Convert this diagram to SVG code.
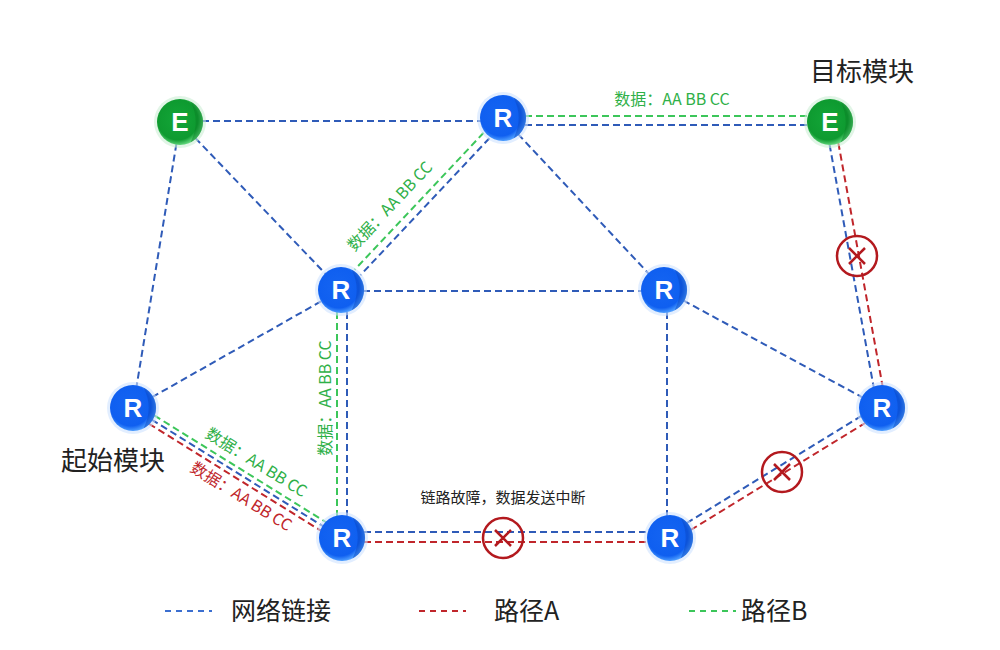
<svg xmlns="http://www.w3.org/2000/svg" width="1000" height="650" viewBox="0 0 1000 650">
<style>
.net{stroke:#2f5bb8;stroke-width:2;stroke-dasharray:7 4;fill:none}
.pa{stroke:#c0262b;stroke-width:2;stroke-dasharray:7 4;fill:none}
.pb{stroke:#3cc65a;stroke-width:2;stroke-dasharray:7 4;fill:none}
.lg{stroke-width:2;stroke-dasharray:6 5;fill:none}
.nl{font-family:"Liberation Sans","Noto Sans CJK SC",sans-serif;font-weight:bold;font-size:26px;fill:#fff;text-anchor:middle}
.t{font-family:"Noto Sans CJK SC",sans-serif;fill:#222}
.g{font-family:"Noto Sans CJK SC",sans-serif;font-size:16px;fill:#2fb048;text-anchor:middle}
.r{font-family:"Noto Sans CJK SC",sans-serif;font-size:16px;fill:#c0262b;text-anchor:middle}
.x{stroke:#b3191e;stroke-width:2.5;fill:none}
</style>
<defs>
<radialGradient id="gb" cx="45%" cy="45%" r="55%">
<stop offset="0" stop-color="#1565f2"/>
<stop offset="0.8" stop-color="#0f5ff0"/>
<stop offset="1" stop-color="#4c9dff"/>
</radialGradient>
<radialGradient id="gg" cx="45%" cy="45%" r="55%">
<stop offset="0" stop-color="#13a638"/>
<stop offset="0.8" stop-color="#0e9a30"/>
<stop offset="1" stop-color="#5fd47a"/>
</radialGradient>
<g id="xm"><circle r="20" class="x"/><path d="M-8,-8L8,8M8,-8L-8,8" class="x"/></g>
</defs>
<rect width="1000" height="650" fill="#fff"/>
<g id="connectors">
<line class="net" x1="180" y1="121" x2="503" y2="121"/>
<line class="net" x1="180" y1="122" x2="341" y2="290"/>
<line class="net" x1="180" y1="122" x2="133" y2="408"/>
<line class="net" x1="489.4" y1="138.2" x2="360.4" y2="275.2"/>
<line class="pb" x1="483.6" y1="132.8" x2="354.6" y2="269.8"/>
<line class="net" x1="503" y1="118" x2="664" y2="290"/>
<line class="net" x1="503" y1="125" x2="830" y2="125"/>
<line class="pb" x1="503" y1="116" x2="830" y2="116"/>
<line class="net" x1="341" y1="291" x2="664" y2="291"/>
<line class="net" x1="347" y1="290" x2="347" y2="538"/>
<line class="pb" x1="337" y1="290" x2="337" y2="538"/>
<line class="net" x1="133" y1="408" x2="341" y2="290"/>
<line class="pb" x1="135.6" y1="403.8" x2="344.6" y2="533.8"/>
<line class="net" x1="133" y1="408" x2="342" y2="538"/>
<line class="pa" x1="130.4" y1="412.2" x2="339.4" y2="542.2"/>
<line class="net" x1="667" y1="290" x2="667" y2="538"/>
<line class="net" x1="664" y1="290" x2="882" y2="408"/>
<line class="net" x1="342" y1="532" x2="670" y2="532"/>
<line class="pa" x1="342" y1="542" x2="670" y2="542"/>
<line class="net" x1="667.9" y1="534.6" x2="879.9" y2="404.6"/>
<line class="pa" x1="672.1" y1="541.4" x2="884.1" y2="411.4"/>
<line class="net" x1="825.6" y1="122.8" x2="877.6" y2="408.8"/>
<line class="pa" x1="834.4" y1="121.2" x2="886.4" y2="407.2"/>
</g>
<g id="faults">
<use href="#xm" x="503" y="538"/>
<use href="#xm" x="782" y="472"/>
<use href="#xm" x="857" y="256"/>
</g>
<g id="labels">
<text class="g" x="672" y="105">数据：AA BB CC</text>
<text class="g" transform="translate(394,210) rotate(-46.7)">数据：AA BB CC</text>
<text class="g" transform="translate(326,398) rotate(-90)" dy="5">数据：AA BB CC</text>
<text class="g" transform="translate(256,463) rotate(31.9)" dy="5">数据：AA BB CC</text>
<text class="r" transform="translate(241,497) rotate(31.9)" dy="5">数据：AA BB CC</text>
<text class="t" x="503" y="503" font-size="15" text-anchor="middle">链路故障，数据发送中断</text>
<text class="t" x="862" y="81" font-size="26" text-anchor="middle">目标模块</text>
<text class="t" x="113" y="470" font-size="26" text-anchor="middle">起始模块</text>
</g>
<g id="node-E1" transform="translate(180,122)"><circle r="26" fill="#cdeed6" opacity="0.6"/><circle r="23" fill="url(#gg)"/><path d="M10.5,-20.5A23,23 0 0 1 10.5,20.5Q21,0 10.5,-20.5Z" fill="#0a7f26" opacity="0.5"/><text class="nl" y="9">E</text></g>
<g id="node-Rtop" transform="translate(503,118)"><circle r="26" fill="#cfe2ff" opacity="0.6"/><circle r="23" fill="url(#gb)"/><path d="M10.5,-20.5A23,23 0 0 1 10.5,20.5Q21,0 10.5,-20.5Z" fill="#0a47c4" opacity="0.5"/><text class="nl" y="9">R</text></g>
<g id="node-E2" transform="translate(830,122)"><circle r="26" fill="#cdeed6" opacity="0.6"/><circle r="23" fill="url(#gg)"/><path d="M10.5,-20.5A23,23 0 0 1 10.5,20.5Q21,0 10.5,-20.5Z" fill="#0a7f26" opacity="0.5"/><text class="nl" y="9">E</text></g>
<g id="node-RML" transform="translate(341,290)"><circle r="26" fill="#cfe2ff" opacity="0.6"/><circle r="23" fill="url(#gb)"/><path d="M10.5,-20.5A23,23 0 0 1 10.5,20.5Q21,0 10.5,-20.5Z" fill="#0a47c4" opacity="0.5"/><text class="nl" y="9">R</text></g>
<g id="node-RMR" transform="translate(664,290)"><circle r="26" fill="#cfe2ff" opacity="0.6"/><circle r="23" fill="url(#gb)"/><path d="M10.5,-20.5A23,23 0 0 1 10.5,20.5Q21,0 10.5,-20.5Z" fill="#0a47c4" opacity="0.5"/><text class="nl" y="9">R</text></g>
<g id="node-RL" transform="translate(133,408)"><circle r="26" fill="#cfe2ff" opacity="0.6"/><circle r="23" fill="url(#gb)"/><path d="M10.5,-20.5A23,23 0 0 1 10.5,20.5Q21,0 10.5,-20.5Z" fill="#0a47c4" opacity="0.5"/><text class="nl" y="9">R</text></g>
<g id="node-RR" transform="translate(882,408)"><circle r="26" fill="#cfe2ff" opacity="0.6"/><circle r="23" fill="url(#gb)"/><path d="M10.5,-20.5A23,23 0 0 1 10.5,20.5Q21,0 10.5,-20.5Z" fill="#0a47c4" opacity="0.5"/><text class="nl" y="9">R</text></g>
<g id="node-RBL" transform="translate(342,538)"><circle r="26" fill="#cfe2ff" opacity="0.6"/><circle r="23" fill="url(#gb)"/><path d="M10.5,-20.5A23,23 0 0 1 10.5,20.5Q21,0 10.5,-20.5Z" fill="#0a47c4" opacity="0.5"/><text class="nl" y="9">R</text></g>
<g id="node-RBR" transform="translate(670,538)"><circle r="26" fill="#cfe2ff" opacity="0.6"/><circle r="23" fill="url(#gb)"/><path d="M10.5,-20.5A23,23 0 0 1 10.5,20.5Q21,0 10.5,-20.5Z" fill="#0a47c4" opacity="0.5"/><text class="nl" y="9">R</text></g>
<g id="legend">
<line class="lg" x1="165" y1="611" x2="212" y2="611" stroke="#3b6fd0"/>
<text class="t" x="231" y="620" font-size="25">网络链接</text>
<line class="lg" x1="419" y1="611" x2="466" y2="611" stroke="#c0262b"/>
<text class="t" x="494" y="620" font-size="25">路径A</text>
<line class="lg" x1="689" y1="611" x2="736" y2="611" stroke="#3cc65a"/>
<text class="t" x="741" y="620" font-size="25">路径B</text>
</g>
</svg>
